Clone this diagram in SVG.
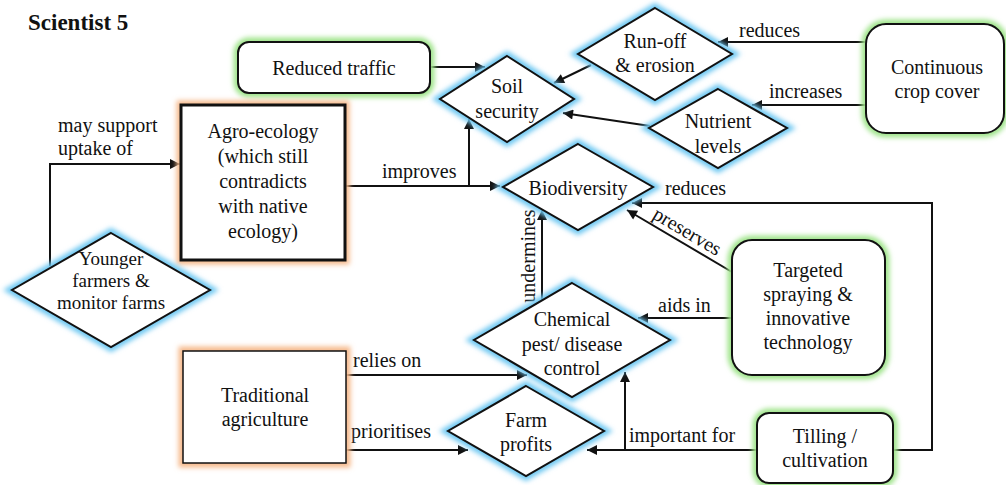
<svg xmlns="http://www.w3.org/2000/svg" width="1006" height="485" viewBox="0 0 1006 485" font-family="Liberation Serif, serif">
<style>
text{font-size:20px;fill:#111}
.c{text-anchor:middle}
.shape{fill:#fff;stroke:#111;stroke-width:2}
.gb{fill:none;stroke:#6ec8f2;stroke-width:9}
.gg{fill:none;stroke:#9fe48a;stroke-width:9}
.go{fill:none;stroke:#f6b98c;stroke-width:9}
.ln{fill:none;stroke:#111;stroke-width:2;marker-end:url(#arr)}
</style>
<defs>
<filter id="blur" x="-20%" y="-20%" width="140%" height="140%"><feGaussianBlur stdDeviation="2.5"/></filter>
<marker id="arr" viewBox="0 0 10 10" refX="10" refY="5" markerWidth="13" markerHeight="10" markerUnits="userSpaceOnUse" orient="auto"><path d="M0,0 L10,5 L0,10 z" fill="#111"/></marker>
</defs>
<rect width="1006" height="485" fill="#fff"/>
<text x="28" y="30" font-weight="bold" style="font-size:23px">Scientist 5</text>

<g id="connectors">
<path class="ln" d="M50,266 V164 H180"/>
<text x="58" y="132">may support</text>
<text x="58" y="155">uptake of</text>
<path class="ln" d="M430,67 H485"/>
<path class="ln" d="M591,65 L554,83"/>
<path class="ln" d="M866,42 H718"/>
<text x="739" y="37">reduces</text>
<path class="ln" d="M866,105 H752"/>
<text x="769" y="98">increases</text>
<path class="ln" d="M650,126 L563,113"/>
<path class="ln" d="M345,186 H500"/>
<path class="ln" d="M469,186 V119"/>
<text x="382" y="178">improves</text>
<path class="ln" d="M893,450 H932 V203 H632"/>
<text x="665" y="195">reduces</text>
<path class="ln" d="M732,272 L627,210"/>
<text class="c" x="684" y="237" transform="rotate(30.6 684 237)">preserves</text>
<path class="ln" d="M732,318 H638"/>
<text x="658" y="312">aids in</text>
<path class="ln" d="M542,300 V210"/>
<text class="c" x="535" y="256" transform="rotate(-90 535 256)">undermines</text>
<path class="ln" d="M346,375 H527"/>
<text x="353" y="367">relies on</text>
<path class="ln" d="M346,450 H468"/>
<text x="351" y="438">prioritises</text>
<path class="ln" d="M757,450 H587"/>
<path class="ln" d="M625,450 V372"/>
<text x="629" y="442">important for</text>
</g>

<g id="reduced-traffic">
<rect class="gg" x="238" y="42" width="192" height="51" rx="11" filter="url(#blur)"/>
<rect class="shape" x="238" y="42" width="192" height="51" rx="11"/>
<text class="c" x="334" y="75">Reduced traffic</text>
</g>

<g id="agro-ecology">
<rect class="go" x="181" y="105" width="164" height="155" filter="url(#blur)"/>
<rect class="shape" x="181" y="105" width="164" height="155" style="stroke-width:3"/>
<text class="c" x="263" y="138">Agro-ecology</text>
<text class="c" x="263" y="163">(which still</text>
<text class="c" x="263" y="188">contradicts</text>
<text class="c" x="263" y="213">with native</text>
<text class="c" x="263" y="238">ecology)</text>
</g>

<g id="younger-farmers">
<polygon class="gb" points="111,233 210,290 111,347 12,290" filter="url(#blur)"/>
<polygon class="shape" points="111,233 210,290 111,347 12,290"/>
<text class="c" x="111" y="265" style="font-size:19px">Younger</text>
<text class="c" x="111" y="287" style="font-size:19px">farmers &amp;</text>
<text class="c" x="111" y="309" style="font-size:19px">monitor farms</text>
</g>

<g id="soil-security">
<polygon class="gb" points="507,56 574,99 507,142 440,99" filter="url(#blur)"/>
<polygon class="shape" points="507,56 574,99 507,142 440,99"/>
<text class="c" x="507" y="93">Soil</text>
<text class="c" x="507" y="118">security</text>
</g>

<g id="run-off">
<polygon class="gb" points="655,8 732,54 655,100 578,54" filter="url(#blur)"/>
<polygon class="shape" points="655,8 732,54 655,100 578,54"/>
<text class="c" x="655" y="48">Run-off</text>
<text class="c" x="655" y="72">&amp; erosion</text>
</g>

<g id="continuous-crop-cover">
<rect class="gg" x="866" y="24" width="138" height="109" rx="20" filter="url(#blur)"/>
<rect class="shape" x="866" y="24" width="138" height="109" rx="20"/>
<text class="c" x="937" y="74">Continuous</text>
<text class="c" x="937" y="98">crop cover</text>
</g>

<g id="nutrient-levels">
<polygon class="gb" points="718,89 787,128 718,168 649,128" filter="url(#blur)"/>
<polygon class="shape" points="718,89 787,128 718,168 649,128"/>
<text class="c" x="718" y="128">Nutrient</text>
<text class="c" x="718" y="153">levels</text>
</g>

<g id="biodiversity">
<polygon class="gb" points="578,144 653,187 578,230 503,187" filter="url(#blur)"/>
<polygon class="shape" points="578,144 653,187 578,230 503,187"/>
<text class="c" x="578" y="195">Biodiversity</text>
</g>

<g id="targeted-spraying">
<rect class="gg" x="732" y="240" width="153" height="135" rx="20" filter="url(#blur)"/>
<rect class="shape" x="732" y="240" width="153" height="135" rx="20"/>
<text class="c" x="808" y="277">Targeted</text>
<text class="c" x="808" y="301">spraying &amp;</text>
<text class="c" x="808" y="325">innovative</text>
<text class="c" x="808" y="349">technology</text>
</g>

<g id="chemical-control">
<polygon class="gb" points="572,283 670,340 572,397 474,340" filter="url(#blur)"/>
<polygon class="shape" points="572,283 670,340 572,397 474,340"/>
<text class="c" x="572" y="326">Chemical</text>
<text class="c" x="572" y="351">pest/ disease</text>
<text class="c" x="572" y="375">control</text>
</g>

<g id="traditional-agriculture">
<rect class="go" x="183" y="351" width="163" height="112" filter="url(#blur)"/>
<rect class="shape" x="183" y="351" width="163" height="112" style="stroke-width:1.5"/>
<text class="c" x="265" y="402">Traditional</text>
<text class="c" x="265" y="426">agriculture</text>
</g>

<g id="farm-profits">
<polygon class="gb" points="526,386 604,431 526,476 448,431" filter="url(#blur)"/>
<polygon class="shape" points="526,386 604,431 526,476 448,431"/>
<text class="c" x="526" y="427">Farm</text>
<text class="c" x="526" y="451">profits</text>
</g>

<g id="tilling">
<rect class="gg" x="757" y="413" width="136" height="70" rx="12" filter="url(#blur)"/>
<rect class="shape" x="757" y="413" width="136" height="70" rx="12"/>
<text class="c" x="825" y="443">Tilling /</text>
<text class="c" x="825" y="467">cultivation</text>
</g>
</svg>
